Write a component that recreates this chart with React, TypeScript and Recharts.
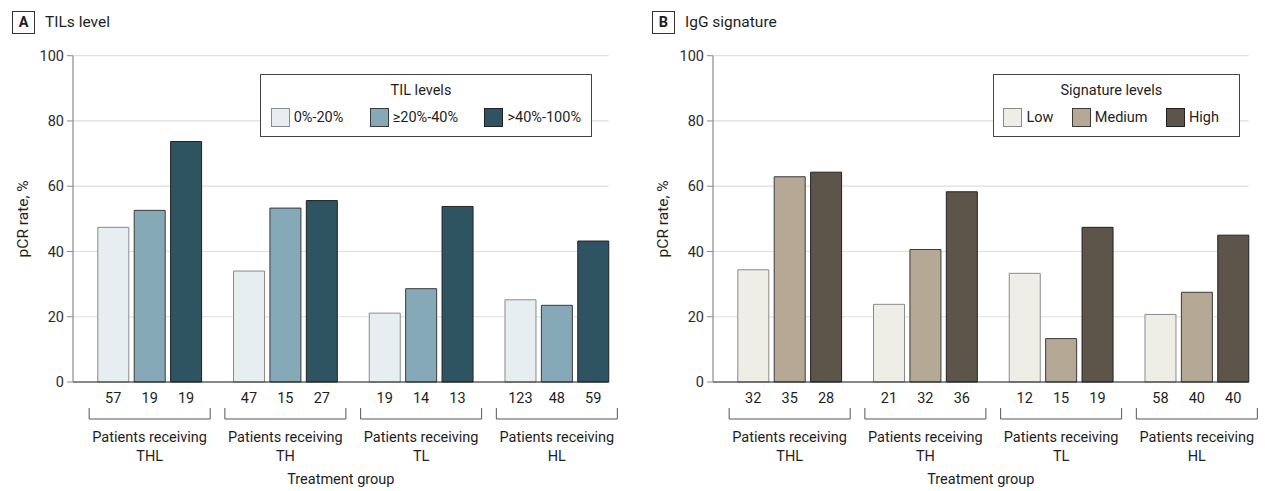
import React from 'react';
import { BarChart, Bar, XAxis, YAxis, CartesianGrid, Legend } from 'recharts';

const FONT = 'Roboto, "DejaVu Sans", sans-serif';

// ---- Data ----
const groups = ['THL', 'TH', 'TL', 'HL'];
const yTicks = [0, 20, 40, 60, 80, 100];

const tilLevels = ['0%-20%', '≥20%-40%', '>40%-100%'];
const tilLow = [47.4, 34.0, 21.1, 25.2];
const tilMid = [52.6, 53.3, 28.6, 23.5];
const tilHigh = [73.7, 55.6, 53.8, 43.2];
const tilNLow = [57, 47, 19, 123];
const tilNMid = [19, 15, 14, 48];
const tilNHigh = [19, 27, 13, 59];

const iggLevels = ['Low', 'Medium', 'High'];
const iggLow = [34.4, 23.8, 33.3, 20.7];
const iggMid = [62.9, 40.6, 13.3, 27.5];
const iggHigh = [64.3, 58.3, 47.4, 45.0];
const iggNLow = [32, 21, 12, 58];
const iggNMid = [35, 32, 15, 40];
const iggNHigh = [28, 36, 19, 40];

type PanelProps = {
  letter: string;
  title: string;
  legendTitle: string;
  levels: string[];
  low: number[];
  mid: number[];
  high: number[];
  nLow: number[];
  nMid: number[];
  nHigh: number[];
  fills: string[];
  strokes: string[];
  width: number;
  legendLeft: number;
  legendWidth: number;
  legendPadRight: number;
};

const BAR_SIZE = 31;
const BAR_GAP = 5.4;
const PLOT_RIGHT = 608.7;
const TEXT = '#1e1e1e';

function Panel(props: PanelProps) {
  const {
    letter, title, legendTitle, levels, low, mid, high, nLow, nMid, nHigh,
    fills, strokes, width, legendLeft, legendWidth, legendPadRight,
  } = props;

  const data = groups.map((g, i) => ({
    group: g,
    low: low[i],
    mid: mid[i],
    high: high[i],
    counts: [nLow[i], nMid[i], nHigh[i]],
  }));

  const renderTick = (p: any) => {
    const { x, y, payload } = p;
    const row = data[payload.index] || data.find((d) => d.group === payload.value);
    const step = BAR_SIZE + BAR_GAP;
    const half = 60.5;
    return (
      <g>
        {row.counts.map((c: number, k: number) => (
          <text
            key={k}
            x={x + (k - 1) * step}
            y={y + 20.5}
            textAnchor="middle"
            fontFamily={FONT}
            fontSize={14.5}
            fill={TEXT}
          >
            {c}
          </text>
        ))}
        <path
          d={`M${x - half},${y + 26}V${y + 37}H${x + half}V${y + 26}`}
          fill="none"
          stroke="#555"
          strokeWidth={1}
        />
        <text x={x} y={y + 60} textAnchor="middle" fontFamily={FONT} fontSize={14.5} fill={TEXT}>
          Patients receiving
        </text>
        <text x={x} y={y + 79} textAnchor="middle" fontFamily={FONT} fontSize={14.5} fill={TEXT}>
          {payload.value}
        </text>
      </g>
    );
  };

  const renderLegend = (p: any) => {
    const payload = p.payload || [];
    const items = levels.map((lv, i) => {
      const e = payload.find((q: any) => q.value === lv);
      return { value: lv, color: e ? e.color : fills[i], stroke: strokes[i] };
    });
    return (
      <div
        style={{
          boxSizing: 'border-box',
          width: legendWidth,
          height: 63,
          border: '1px solid #444',
          background: '#fff',
          fontFamily: FONT,
          fontSize: 14.5,
          color: TEXT,
        }}
      >
        <div style={{ textAlign: 'center', paddingRight: 10, marginTop: 5, height: 21, lineHeight: '21px' }}>
          {legendTitle}
        </div>
        <div
          style={{
            display: 'flex',
            alignItems: 'center',
            justifyContent: 'space-between',
            paddingLeft: 9.7,
            paddingRight: legendPadRight,
            marginTop: 7,
            height: 19,
          }}
        >
          {items.map((e, i) => (
            <div key={i} style={{ display: 'flex', alignItems: 'center' }}>
              <span
                style={{
                  display: 'inline-block',
                  width: 19,
                  height: 19,
                  boxSizing: 'border-box',
                  background: e.color,
                  border: `1px solid ${e.stroke}`,
                  marginRight: 4,
                }}
              />
              <span style={{ lineHeight: '19px' }}>{e.value}</span>
            </div>
          ))}
        </div>
      </div>
    );
  };

  return (
    <div style={{ position: 'relative', width, height: 491 }}>
      <BarChart
        width={width}
        height={491}
        data={data}
        margin={{ top: 55.7, right: width - PLOT_RIGHT, bottom: 0, left: 0 }}
        barSize={BAR_SIZE}
        barGap={BAR_GAP}
      >
        <CartesianGrid vertical={false} stroke="#dedede" strokeWidth={1.2} />
        <XAxis
          dataKey="group"
          type="category"
          height={109}
          interval={0}
          tickLine={false}
          tickSize={0}
          tickMargin={0}
          axisLine={{ stroke: '#222', strokeWidth: 1.2 }}
          padding={{ left: 8.8, right: -16 }}
          tick={renderTick}
          label={(lp: any) => {
            const vb = lp.viewBox || {};
            return (
              <text
                x={vb.x + vb.width / 2}
                y={vb.y + 101.5}
                textAnchor="middle"
                fontFamily={FONT}
                fontSize={14.5}
                fill={TEXT}
              >
                Treatment group
              </text>
            );
          }}
        />
        <YAxis
          width={73}
          domain={[0, 100]}
          ticks={yTicks}
          interval={0}
          tickSize={6}
          tickMargin={3}
          axisLine={{ stroke: '#8a8a8a', strokeWidth: 1.2 }}
          tickLine={{ stroke: '#8a8a8a' }}
          tick={{ fontFamily: FONT, fontSize: 14.5, fill: '#2a2a2a' }}
          label={(lp: any) => {
            const vb = lp.viewBox || {};
            const cx = vb.x + 23;
            const cy = vb.y + vb.height / 2;
            return (
              <text
                x={cx}
                y={cy}
                transform={`rotate(-90, ${cx}, ${cy})`}
                textAnchor="middle"
                dominantBaseline="central"
                fontFamily={FONT}
                fontSize={15.5}
                fill={TEXT}
              >
                pCR rate, %
              </text>
            );
          }}
        />
        <Legend
          layout="horizontal"
          verticalAlign="middle"
          align="center"
          content={renderLegend}
          wrapperStyle={{ left: legendLeft, top: 74, width: legendWidth }}
        />
        <Bar dataKey="low" name={levels[0]} fill={fills[0]} stroke={strokes[0]} strokeWidth={1} isAnimationActive={false} />
        <Bar dataKey="mid" name={levels[1]} fill={fills[1]} stroke={strokes[1]} strokeWidth={1} isAnimationActive={false} />
        <Bar dataKey="high" name={levels[2]} fill={fills[2]} stroke={strokes[2]} strokeWidth={1} isAnimationActive={false} />
      </BarChart>
      <div
        style={{
          position: 'absolute',
          left: 12,
          top: 11,
          width: 23,
          height: 23,
          boxSizing: 'border-box',
          border: '1px solid #333',
          fontFamily: FONT,
          fontWeight: 700,
          fontSize: 14.5,
          color: TEXT,
          display: 'flex',
          alignItems: 'center',
          justifyContent: 'center',
        }}
      >
        {letter}
      </div>
      <div
        style={{
          position: 'absolute',
          left: 45,
          top: 11,
          height: 23,
          lineHeight: '23px',
          fontFamily: FONT,
          fontSize: 15.5,
          color: TEXT,
          whiteSpace: 'nowrap',
        }}
      >
        {title}
      </div>
    </div>
  );
}

export default function App() {
  return (
    <div
      style={{
        position: 'absolute',
        left: 0,
        top: 0,
        width: 1265,
        height: 491,
        background: '#fff',
        overflow: 'hidden',
      }}
    >
      <div style={{ position: 'absolute', left: 0, top: 0 }}>
        <Panel
          letter="A"
          title="TILs level"
          legendTitle="TIL levels"
          levels={tilLevels}
          low={tilLow}
          mid={tilMid}
          high={tilHigh}
          nLow={tilNLow}
          nMid={tilNMid}
          nHigh={tilNHigh}
          fills={['#e6eef1', '#86a9b8', '#2e5462']}
          strokes={['#8a8a8a', '#3a3a3a', '#222']}
          width={640}
          legendLeft={260}
          legendWidth={332}
          legendPadRight={10}
        />
      </div>
      <div style={{ position: 'absolute', left: 640, top: 0 }}>
        <Panel
          letter="B"
          title="IgG signature"
          legendTitle="Signature levels"
          levels={iggLevels}
          low={iggLow}
          mid={iggMid}
          high={iggHigh}
          nLow={iggNLow}
          nMid={iggNMid}
          nHigh={iggNHigh}
          fills={['#eeede6', '#b5a995', '#5d554a']}
          strokes={['#8a8a8a', '#3a3a3a', '#222']}
          width={625}
          legendLeft={352.7}
          legendWidth={247.3}
          legendPadRight={20}
        />
      </div>
    </div>
  );
}
